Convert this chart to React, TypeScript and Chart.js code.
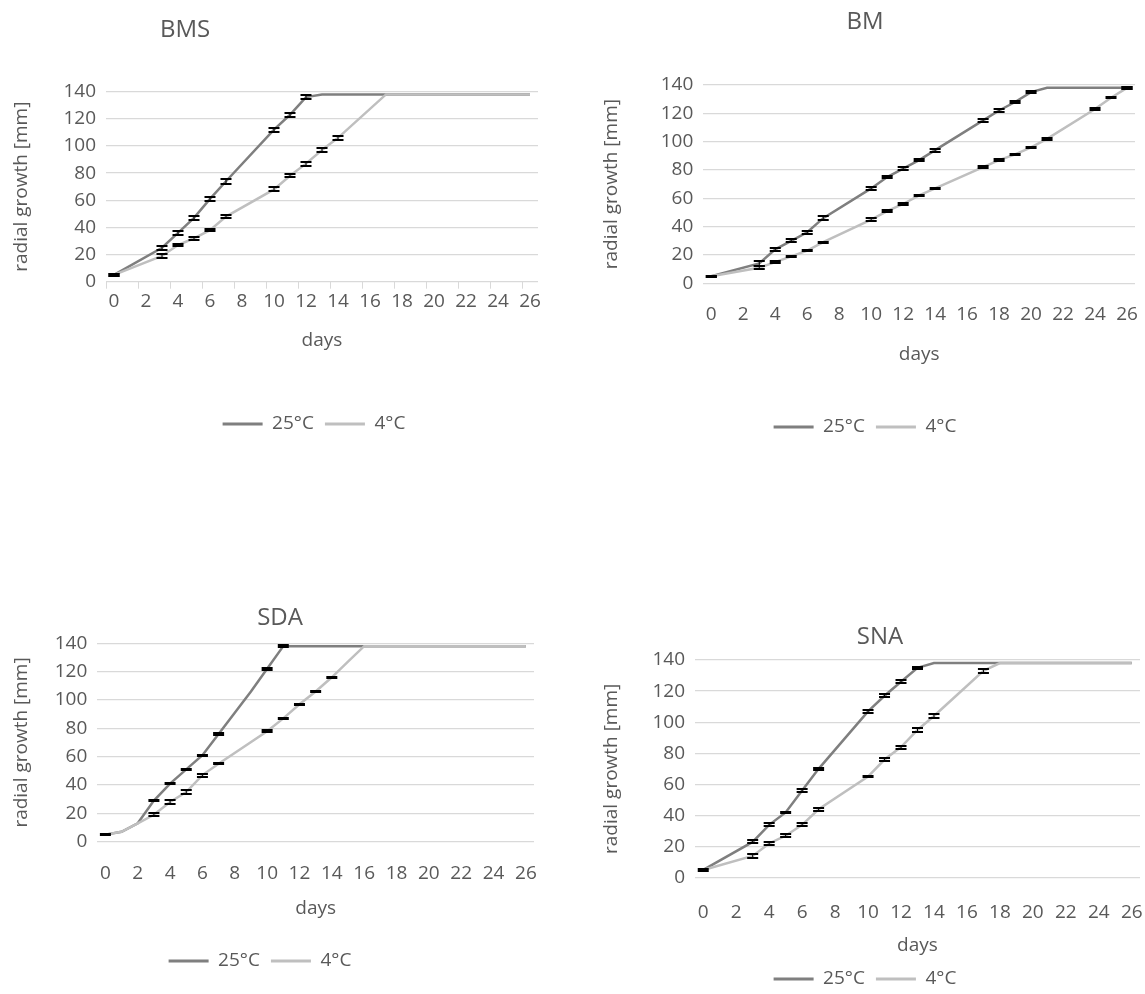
import React, { useEffect, useRef } from 'react';
import { Chart, registerables } from 'chart.js';

Chart.register(...registerables);

// ---------- data ----------
const dayLabels = ['0','1','2','3','4','5','6','7','8','9','10','11','12','13','14','15','16','17','18','19','20','21','22','23','24','25','26'];
const seriesNames = ['25°C', '4°C'];

// BMS
const bmsDays25 = [0, 3, 4, 5, 6, 7, 10, 11, 12, 13, 26];
const bmsVals25 = [5, 25, 36, 47, 61, 74, 112, 123, 136, 138, 138];
const bmsErr25 = [1, 1.5, 1.5, 1.5, 1.5, 2, 1.5, 1.5, 1.5, null, null];
const bmsDays4 = [0, 3, 4, 5, 6, 7, 10, 11, 12, 13, 14, 17, 26];
const bmsVals4 = [5, 19, 27, 32, 38, 48, 68, 78, 87, 97, 106, 138, 138];
const bmsErr4 = [1, 1.5, 1, 1, 1, 1, 1.5, 1, 1.5, 1.5, 1.5, null, null];

// BM
const bmDays25 = [0, 3, 4, 5, 6, 7, 10, 11, 12, 13, 14, 17, 18, 19, 20, 21, 26];
const bmVals25 = [5, 14, 24, 30, 36, 46, 67, 75, 81, 87, 94, 115, 122, 128, 135, 138, 138];
const bmErr25 = [0.5, 1.5, 1, 1, 1, 1.5, 1, 1, 1, 1, 1, 1, 1, 1, 1, null, 0.5];
const bmDays4 = [0, 3, 4, 5, 6, 7, 10, 11, 12, 13, 14, 17, 18, 19, 20, 21, 24, 25, 26];
const bmVals4 = [5, 11, 15, 19, 23, 29, 45, 51, 56, 62, 67, 82, 87, 91, 96, 102, 123, 131, 138];
const bmErr4 = [0.5, 1, 0.5, 0.5, 0.5, 0.5, 1, 0.5, 1, 0.5, 0.5, 0.5, 0.5, 0.5, 0.5, 0.5, 0.5, 0.5, 0.5];

// SDA
const sdaDays25 = [0, 1, 2, 3, 4, 5, 6, 7, 8, 9, 10, 11, 26];
const sdaVals25 = [5, 7, 13, 29, 41, 51, 61, 76, 91, 106, 122, 138, 138];
const sdaErr25 = [0.5, null, null, 0.5, 0.5, 0.5, 0.5, 0.5, null, null, 0.5, 0.5, null];
const sdaDays4 = [0, 1, 2, 3, 4, 5, 6, 7, 10, 11, 12, 13, 14, 15, 16, 26];
const sdaVals4 = [5, 7, 13, 19, 28, 35, 47, 55, 78, 87, 97, 106, 116, 127, 138, 138];
const sdaErr4 = [null, null, null, 1, 1.5, 1.5, 1, 0.5, 0.5, 0.5, 0.5, 0.5, 0.5, null, null, null];

// SNA
const snaDays25 = [0, 3, 4, 5, 6, 7, 10, 11, 12, 13, 14, 26];
const snaVals25 = [5, 23, 34, 42, 56, 70, 107, 117, 126, 135, 138, 138];
const snaErr25 = [0.5, 1, 1, 0.5, 1, 0.5, 1, 1, 1, 0.5, null, null];
const snaDays4 = [0, 3, 4, 5, 6, 7, 10, 11, 12, 13, 14, 17, 18, 26];
const snaVals4 = [5, 14, 22, 27, 34, 44, 65, 76, 84, 95, 104, 133, 138, 138];
const snaErr4 = [null, 1.5, 1, 1, 1, 1, 0.5, 1, 1, 1.5, 1.5, 1.5, null, null];

// ---------- styles ----------
const DARK = '#7f7f7f';
const LIGHT = '#bfbfbf';
const TEXT = '#595959';
const GRID = '#d9d9d9';
const FONT = '"Open Sans", Lato, sans-serif';
const FS = 19;

const panels = [
  {
    title: 'BMS', left: 0, top: 0, w: 560, h: 450,
    padTop: 91.7, padRight: 22, padBottom: 45.5, yW: 106, xH: 122.8,
    tickPad: 1.9, tickMarks: true, daysPad: 52.1, titleX: 185, titleY: 30, legX: 314, legY: 424,
    d25: bmsDays25, v25: bmsVals25, e25: bmsErr25, d4: bmsDays4, v4: bmsVals4, e4: bmsErr4,
  },
  {
    title: 'BM', left: 590, top: 0, w: 555, h: 450,
    padTop: 85, padRight: 10, padBottom: 42.5, yW: 113.3, xH: 124.2,
    tickPad: 13.3, tickMarks: false, daysPad: 41.1, titleX: 275, titleY: 22, legX: 275, legY: 427,
    d25: bmDays25, v25: bmVals25, e25: bmErr25, d4: bmDays4, v4: bmVals4, e4: bmErr4,
  },
  {
    title: 'SDA', left: 0, top: 580, w: 560, h: 401,
    padTop: 63.3, padRight: 26, padBottom: 39.5, yW: 97.3, xH: 99.8,
    tickPad: 13.9, tickMarks: false, daysPad: 21.1, titleX: 280, titleY: 38, legX: 260, legY: 381,
    d25: sdaDays25, v25: sdaVals25, e25: sdaErr25, d4: sdaDays4, v4: sdaVals4, e4: sdaErr4,
  },
  {
    title: 'SNA', left: 590, top: 590, w: 555, h: 409,
    padTop: 70, padRight: 5, padBottom: 39.5, yW: 105, xH: 81.8,
    tickPad: 16.9, tickMarks: false, daysPad: 2.1, titleX: 290, titleY: 47, legX: 275, legY: 389,
    d25: snaDays25, v25: snaVals25, e25: snaErr25, d4: snaDays4, v4: snaVals4, e4: snaErr4,
  },
];

const errorBarPlugin = {
  id: 'errorBars',
  afterDatasetsDraw(chart: any) {
    const ctx = chart.ctx;
    const yScale = chart.scales.y;
    chart.data.datasets.forEach((ds: any, i: number) => {
      const errs = ds.errors;
      if (!errs) return;
      const meta = chart.getDatasetMeta(i);
      meta.data.forEach((pt: any, j: number) => {
        const e = errs[j];
        if (e == null) return;
        const v = ds.data[j].y;
        const yHi = Math.round(yScale.getPixelForValue(v + e));
        const yLo = Math.round(yScale.getPixelForValue(v - e));
        const x = pt.x;
        ctx.save();
        ctx.strokeStyle = '#000';
        ctx.lineWidth = 1;
        ctx.beginPath();
        ctx.moveTo(x, yHi);
        ctx.lineTo(x, yLo);
        ctx.stroke();
        ctx.lineWidth = 2;
        ctx.beginPath();
        ctx.moveTo(x - 5.5, yHi);
        ctx.lineTo(x + 5.5, yHi);
        ctx.moveTo(x - 5.5, yLo);
        ctx.lineTo(x + 5.5, yLo);
        ctx.stroke();
        ctx.restore();
      });
    });
  },
};

const titlePlugin = {
  id: 'posTitle',
  afterDraw(chart: any, _args: any, opts: any) {
    const ctx = chart.ctx;
    ctx.save();
    ctx.font = `24px ${FONT}`;
    ctx.fillStyle = TEXT;
    ctx.textAlign = 'center';
    ctx.textBaseline = 'middle';
    ctx.fillText(opts.text, opts.x, opts.y);
    ctx.restore();
  },
};

const legendPlugin = {
  id: 'posLegend',
  afterDraw(chart: any, _args: any, opts: any) {
    const ctx = chart.ctx;
    ctx.save();
    ctx.font = `${FS}px ${FONT}`;
    const items = chart.data.datasets.map((ds: any) => ({
      text: ds.label,
      color: ds.borderColor,
      w: ctx.measureText(ds.label).width,
    }));
    const LINE = 40;
    const GAP = 9.5;
    const SEP = 11;
    const total =
      items.reduce((s: number, it: any) => s + LINE + GAP + it.w, 0) + SEP * (items.length - 1);
    let x = opts.x - total / 2;
    items.forEach((it: any) => {
      ctx.fillStyle = it.color;
      ctx.fillRect(x, opts.y - 1.5, LINE, 3);
      x += LINE + GAP;
      ctx.fillStyle = TEXT;
      ctx.textAlign = 'left';
      ctx.textBaseline = 'middle';
      ctx.fillText(it.text, x, opts.y);
      x += it.w + SEP;
    });
    ctx.restore();
  },
};

function toPoints(days: number[], vals: number[]) {
  return days.map((d, i) => ({ x: String(d), y: vals[i] }));
}

function Panel({ p }: { p: any }) {
  const ref = useRef<HTMLCanvasElement>(null);
  useEffect(() => {
    if (!ref.current) return;
    const chart = new Chart(ref.current, {
      type: 'line',
      data: {
        labels: dayLabels,
        datasets: [
          {
            label: seriesNames[0],
            data: toPoints(p.d25, p.v25),
            errors: p.e25,
            borderColor: DARK,
            backgroundColor: DARK,
            borderWidth: 2.5,
            pointRadius: 0,
            tension: 0,
            fill: false,
            order: 1,
          } as any,
          {
            label: seriesNames[1],
            data: toPoints(p.d4, p.v4),
            errors: p.e4,
            borderColor: LIGHT,
            backgroundColor: LIGHT,
            borderWidth: 2.5,
            pointRadius: 0,
            tension: 0,
            fill: false,
            order: 0,
          } as any,
        ],
      },
      options: {
        responsive: false,
        animation: false,
        devicePixelRatio: 1,
        layout: { padding: { top: p.padTop, left: 0, right: p.padRight, bottom: p.padBottom } },
        scales: {
          x: {
            type: 'category',
            offset: true,
            border: { display: false },
            grid: {
              display: p.tickMarks,
              drawOnChartArea: false,
              drawTicks: true,
              tickLength: 7,
              offset: true,
              color: (ctx: any) => (typeof ctx.index === 'number' && ctx.index % 2 === 0 ? GRID : 'rgba(0,0,0,0)'),
            },
            ticks: {
              autoSkip: false,
              maxRotation: 0,
              minRotation: 0,
              padding: p.tickPad,
              color: TEXT,
              font: { family: FONT, size: FS },
              callback: (_v: any, idx: number) => (idx % 2 === 0 ? dayLabels[idx] : ''),
            },
            title: {
              display: true,
              text: 'days',
              color: TEXT,
              font: { family: FONT, size: FS },
              padding: { top: 0, bottom: p.daysPad },
            },
            afterFit: (s: any) => {
              s.height = p.xH;
              s.paddingLeft = 0;
              s.paddingRight = 0;
            },
          },
          y: {
            min: 0,
            max: 140,
            border: { display: false },
            grid: { color: GRID, lineWidth: 1.3, drawTicks: false },
            ticks: {
              stepSize: 20,
              padding: 10,
              color: TEXT,
              font: { family: FONT, size: FS },
            },
            title: {
              display: true,
              text: 'radial growth [mm]',
              color: TEXT,
              font: { family: FONT, size: FS },
              padding: { top: 10.6, bottom: 0 },
            },
            afterFit: (s: any) => {
              s.width = p.yW;
              s.paddingTop = 0;
              s.paddingBottom = 0;
            },
          },
        },
        plugins: {
          legend: { display: false },
          tooltip: { enabled: false },
          posTitle: { text: p.title, x: p.titleX, y: p.titleY },
          posLegend: { x: p.legX, y: p.legY },
        } as any,
      },
      plugins: [errorBarPlugin, titlePlugin, legendPlugin],
    } as any);
    return () => chart.destroy();
  }, [p]);
  return (
    <canvas
      ref={ref}
      width={p.w}
      height={p.h}
      style={{ position: 'absolute', left: p.left, top: p.top, width: p.w, height: p.h }}
    />
  );
}

export default function App() {
  return (
    <div
      style={{
        position: 'fixed',
        left: 0,
        top: 0,
        width: 1145,
        height: 994,
        overflow: 'hidden',
        background: '#ffffff',
      }}
    >
      {panels.map((p) => (
        <Panel key={p.title} p={p} />
      ))}
    </div>
  );
}
